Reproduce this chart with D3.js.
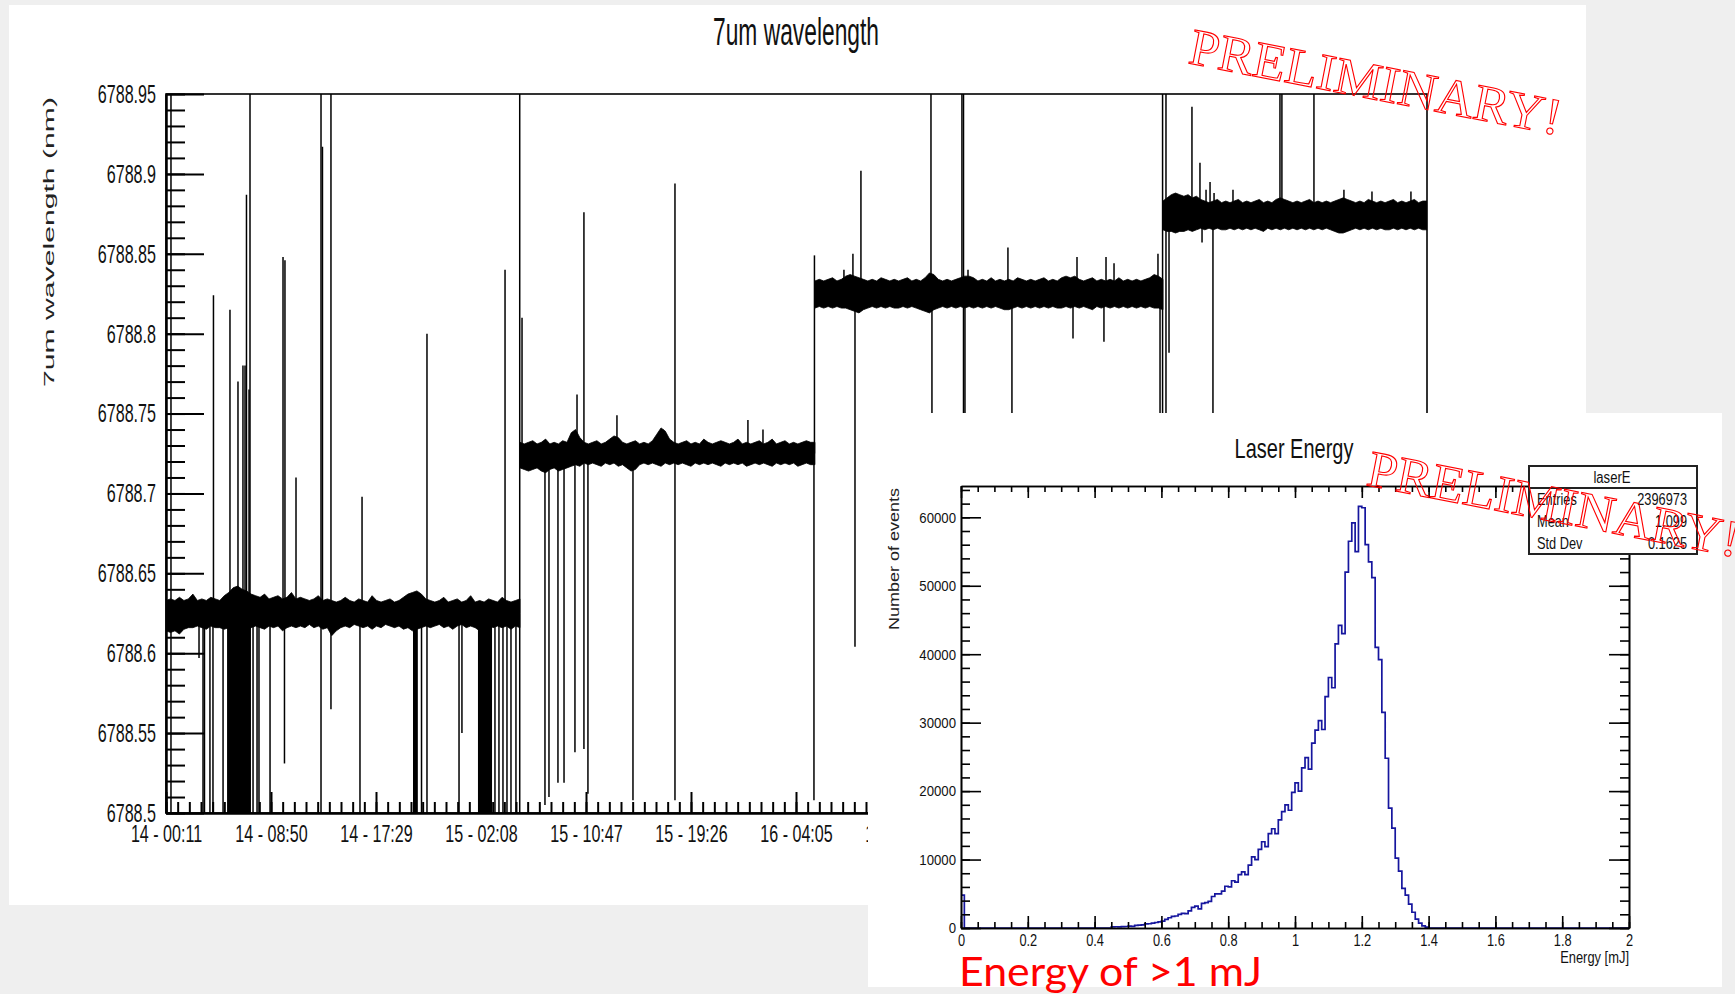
<!DOCTYPE html>
<html><head><meta charset="utf-8">
<script src="https://cdn.jsdelivr.net/npm/d3@7"></script>
<style>
html,body{margin:0;padding:0;background:#efefef;}
svg{display:block;}
</style></head><body>
<svg id="slide" width="1735" height="994"></svg>
<script>
// ---------- 7um wavelength monitor ----------
const runStart = "14 - 00:11";
const runEnd = "18 - 08:04";
const xTickLabels = ["14 - 00:11","14 - 08:50","14 - 17:29","15 - 02:08","15 - 10:47","15 - 19:26",
  "16 - 04:05","16 - 12:44","16 - 21:23","17 - 06:02","17 - 14:41","17 - 23:20","18 - 07:59"];
const yTickValues = [6788.5,6788.55,6788.6,6788.65,6788.7,6788.75,6788.8,6788.85,6788.9,6788.95];
const yTickLabels = ["6788.5","6788.55","6788.6","6788.65","6788.7","6788.75","6788.8","6788.85","6788.9","6788.95"];

// plateaus of the locked wavelength (hours since run start, nm)
const plateauStartH = [0, 29.16, 53.46, 82.13];
const plateauEndH = [29.16, 53.46, 82.13, 103.88];
const plateauLevel = [6788.625, 6788.725, 6788.825, 6788.874];
// jitter envelope above / below each plateau, in pm, sampled evenly along it
const bandUpperPm = [
  [8,9,8,10,8,9,12,8,9,8,10,9,8,11,13,16,17,15,14,12,11,10,12,9,10,11,9,10,13,9,10,9,8,9,11,8,9,8,7,8,
   10,8,7,9,8,7,11,8,7,8,9,7,8,10,12,13,14,12,9,8,7,8,10,7,8,9,7,8,11,7,8,7,9,8,7,10,8,7,8,9],
  [7,6,7,8,6,7,9,6,7,6,8,7,13,15,10,7,6,7,8,6,7,9,11,10,7,6,7,8,6,7,6,8,12,16,14,9,7,6,7,8,
   6,7,6,9,7,6,7,8,7,6,7,9,6,7,6,7,8,6,7,9,6,7,8,6,7,6,7,8,7,7],
  [8,9,8,9,10,8,9,11,12,11,10,9,8,9,8,10,9,8,9,8,9,10,8,9,8,10,13,12,9,8,9,8,9,10,11,11,10,8,9,8,
   10,8,9,8,9,8,10,9,8,9,8,9,10,8,9,8,10,11,10,11,9,8,9,10,8,9,8,9,8,10,8,9,8,9,8,9,10,12,11,9],
  [9,11,13,14,13,12,13,11,12,10,9,8,9,10,8,9,8,9,10,8,9,8,9,10,8,9,8,10,11,10,9,8,9,8,9,10,8,9,8,9,
   8,9,10,11,10,9,8,9,8,10,9,8,9,8,9,10,8,9,8,9,10,8,9,9]
];
const bandLowerPm = [
  [11,12,11,13,10,9,9,8,9,10,8,9,9,10,9,10,11,9,10,9,8,9,10,8,9,8,11,9,8,9,8,9,7,9,8,10,9,14,11,9,
   8,9,7,8,9,8,10,8,9,7,8,9,8,10,9,11,10,9,8,9,8,7,9,8,10,8,7,9,8,9,11,8,7,9,8,9,8,10,8,9],
  [9,10,11,10,9,11,12,10,9,11,10,9,8,7,8,6,7,6,7,8,6,7,6,8,7,9,11,10,7,6,7,6,7,8,6,7,6,7,6,7,
   8,6,7,6,7,6,7,8,6,7,6,7,6,8,7,6,7,6,7,8,6,7,6,7,6,8,7,6,7,7],
  [9,8,9,8,9,8,9,9,10,11,12,10,9,8,9,8,9,8,9,9,8,9,8,9,10,11,12,10,9,8,9,8,9,8,9,8,9,8,9,8,
   9,8,9,10,10,9,8,9,8,9,8,9,8,9,8,9,9,8,9,8,9,8,9,10,8,9,8,9,8,9,8,9,8,9,8,9,8,9,9,10],
  [9,10,10,11,10,10,9,10,9,8,9,8,9,8,9,9,8,9,8,9,8,9,8,9,10,8,9,8,9,8,9,8,9,8,9,8,9,8,9,8,
   9,10,11,11,10,9,8,9,8,9,8,9,8,9,9,8,9,8,9,8,9,8,9,9]
];
// isolated excursions: [hours since start, extreme wavelength nm]
const spikes = [
  [0.41,6789.00],[0.41,6788.45],[2.72,6788.597],[3.05,6788.45],[3.17,6788.45],[3.62,6788.45],[3.87,6788.45],
  [3.91,6788.824],[4.70,6788.45],[5.27,6788.815],[5.93,6788.770],[6.34,6788.780],[6.51,6788.780],[6.63,6788.887],
  [6.84,6788.765],[6.92,6789.00],[7.17,6788.45],[7.50,6788.45],[7.66,6788.45],[8.57,6788.45],
  [9.64,6788.848],[9.80,6788.846],[9.76,6788.531],[10.71,6788.710],
  [12.77,6789.00],[12.77,6788.45],[12.89,6788.917],[13.59,6789.00],[13.59,6788.565],
  [15.98,6788.45],[16.15,6788.698],[20.43,6788.45],[20.68,6788.45],[21.05,6788.45],[21.50,6788.45],[21.50,6788.800],
  [24.14,6788.45],[24.38,6788.550],[27.10,6788.45],[27.43,6788.45],[27.76,6788.45],[27.93,6788.840],
  [28.09,6788.45],[28.42,6788.45],[28.83,6788.45],[29.14,6789.00],[29.14,6788.45],
  [29.33,6788.810],[31.22,6788.505],[31.55,6788.510],[32.29,6788.519],[32.79,6788.519],[33.69,6788.538],
  [33.86,6788.762],[34.43,6788.876],[34.43,6788.540],[34.76,6788.512],[37.15,6788.749],[38.47,6788.508],
  [40.94,6788.740],[41.93,6788.894],[41.93,6788.508],[47.94,6788.746],[49.18,6788.740],[53.38,6788.508],[53.42,6788.849],
  [55.85,6788.840],[56.59,6788.850],[56.76,6788.604],[57.25,6788.902],[63.02,6789.00],[63.10,6788.45],
  [65.57,6789.00],[65.70,6789.00],[65.70,6788.45],[65.82,6788.45],[66.07,6788.840],[69.36,6788.854],[69.69,6788.550],
  [74.72,6788.797],[75.05,6788.848],[77.27,6788.795],[77.44,6788.848],[78.10,6788.844],[81.72,6788.850],
  [81.89,6788.45],[82.10,6789.00],[82.10,6788.45],
  [82.38,6789.00],[82.38,6788.45],[82.63,6788.788],[84.52,6788.942],[85.18,6788.907],[85.35,6788.857],
  [85.68,6788.890],[86.01,6788.895],[86.25,6788.45],[86.34,6788.888],[87.90,6788.890],[91.77,6789.00],
  [91.93,6789.00],[94.57,6789.00],[97.04,6788.890],[99.35,6788.889],[102.56,6788.889]
];
// dense drop-out bursts: [from h, to h, lowest nm]
const bursts = [[5.03,7.00,6788.45],[20.35,20.70,6788.45],[25.70,26.86,6788.45]];

// ---------- laser energy histogram ----------
const energyTickValues = [0,0.2,0.4,0.6,0.8,1,1.2,1.4,1.6,1.8,2];
const energyTickLabels = ["0","0.2","0.4","0.6","0.8","1","1.2","1.4","1.6","1.8","2"];
const countTickValues = [0,10000,20000,30000,40000,50000,60000];
const countTickLabels = ["0","10000","20000","30000","40000","50000","60000"];
const countAxisMax = 64575;
const binWidth = 0.01;
const lowBinStart = [0.00];
const lowBinCount = [4800];
const peakBinStart = 0.45;
const peakBinCounts = [
  150,180,170,200,220,260,240,380,420,450,
  600,620,700,800,900,1000,1250,1500,1700,1750,
  2000,2150,2100,2500,3000,3200,2800,3600,3700,3900,
  4600,5000,5000,5400,6100,6000,6900,6700,7800,8200,
  7800,9200,10400,10000,11500,12600,11900,13800,14500,13800,
  15800,17000,18000,17200,19800,21200,20000,23400,24900,23200,
  27000,28900,30300,29000,33800,36600,35100,41500,44200,43000,
  52000,56500,59200,55000,61600,61400,56000,53500,51200,41000,
  39200,31500,24800,17500,14600,10200,8300,5800,4800,3500,
  2300,1300,700,300,120
];
const statsTitle = "laserE";
const statsNames = ["Entries","Mean","Std Dev"];
const statsValues = ["2396973","1.099","0.1625"];

// ---------- drawing ----------
const SANS = "'Liberation Sans', Arial, Helvetica, sans-serif";
const svg = d3.select("#slide");

// squeeze a text horizontally about its own anchor x
function squeeze(sel, sx) {
  sel.each(function () {
    const t = d3.select(this);
    const x0 = +t.attr("x") || 0;
    t.attr("transform", `translate(${x0},0) scale(${sx},1) translate(${-x0},0)`);
  });
}
function styleAxis(g, fs, sx, sw) {
  g.attr("font-family", SANS).attr("font-size", fs);
  g.selectAll(".tick line").attr("stroke", "#000").attr("stroke-width", sw);
  g.select(".domain").attr("stroke", "#000").attr("stroke-width", sw);
  g.selectAll("text").filter(function () { return !this.textContent; }).remove();
  g.selectAll("text").attr("fill", "#111");
  squeeze(g.selectAll("text"), sx);
}

svg.append("rect").attr("width", 1735).attr("height", 994).attr("fill", "#efefef");
svg.append("rect").attr("x", 9).attr("y", 5).attr("width", 1577).attr("height", 900).attr("fill", "#fff");

// main time-series panel
const parseTime = d3.utcParse("%d - %H:%M");
const t0 = parseTime(runStart);
const atHours = h => new Date(+t0 + h * 3600e3);
const x = d3.scaleUtc().domain([t0, parseTime(runEnd)]).range([166, 1427]);
const y = d3.scaleLinear().domain([6788.5, 6788.95]).range([813, 94]);

const defs = svg.append("defs");
defs.append("clipPath").attr("id", "mainClip").append("rect")
  .attr("x", 166).attr("y", 94).attr("width", 1261).attr("height", 719);
defs.append("clipPath").attr("id", "histClip").append("rect")
  .attr("x", 961).attr("y", 486).attr("width", 668).attr("height", 442);

const main = svg.append("g");
const plot = main.append("g").attr("clip-path", "url(#mainClip)");

function levelAt(h) {
  for (let k = 0; k < plateauLevel.length; k++)
    if (h >= plateauStartH[k] && h < plateauEndH[k]) return plateauLevel[k];
  return plateauLevel[plateauLevel.length - 1];
}

plot.selectAll("rect.burst").data(bursts).join("rect")
  .attr("class", "burst")
  .attr("x", d => x(atHours(d[0])))
  .attr("width", d => x(atHours(d[1])) - x(atHours(d[0])))
  .attr("y", d => y(levelAt(d[0])))
  .attr("height", d => y(d[2]) - y(levelAt(d[0])))
  .attr("fill", "#000");

const band = d3.area().x(d => x(atHours(d.h))).y0(d => y(d.lvl - d.lo / 1000)).y1(d => y(d.lvl + d.up / 1000));
plateauLevel.forEach((lvl, k) => {
  const up = bandUpperPm[k], lo = bandLowerPm[k], n = up.length;
  const h0 = plateauStartH[k], h1 = plateauEndH[k];
  const pts = up.map((u, i) => ({ h: h0 + (h1 - h0) * i / (n - 1), up: u, lo: lo[i], lvl }));
  plot.append("path").datum(pts).attr("d", band)
    .attr("fill", "#000").attr("stroke", "#000").attr("stroke-width", 0.8);
});

plot.selectAll("line.spike").data(spikes).join("line")
  .attr("class", "spike")
  .attr("x1", d => x(atHours(d[0]))).attr("x2", d => x(atHours(d[0])))
  .attr("y1", d => y(levelAt(d[0]))).attr("y2", d => y(d[1]))
  .attr("stroke", "#000").attr("stroke-width", 1.5);

// frame
main.append("rect").attr("x", 166).attr("y", 94).attr("width", 1261).attr("height", 719)
  .attr("fill", "none").attr("stroke", "#000").attr("stroke-width", 1.6);

// y axis (minor + major, ticks pointing inward)
const yMinor = d3.range(0, 46).map(i => 6788.5 + i * 0.01);
const gyMinor = main.append("g").attr("transform", "translate(166,0)")
  .call(d3.axisLeft(y).tickValues(yMinor).tickSize(-19).tickFormat("").tickSizeOuter(0));
styleAxis(gyMinor, 10, 1, 2);
const gy = main.append("g").attr("transform", "translate(166,0)")
  .call(d3.axisLeft(y).tickValues(yTickValues).tickFormat((d, i) => yTickLabels[i])
    .tickSize(-38).tickPadding(10).tickSizeOuter(0));
styleAxis(gy, 26, 0.62, 2);

// x axis (time)
const xMajor = xTickLabels.map(parseTime);
const xMinor = d3.range(0, 109).map(i => new Date(+t0 + i * (519 / 9) * 60e3));
const gxMinor = main.append("g").attr("transform", "translate(0,813)")
  .call(d3.axisBottom(x).tickValues(xMinor).tickSize(-11).tickFormat("").tickSizeOuter(0));
styleAxis(gxMinor, 10, 1, 2);
const gx = main.append("g").attr("transform", "translate(0,813)")
  .call(d3.axisBottom(x).tickValues(xMajor).tickFormat((d, i) => xTickLabels[i])
    .tickSize(-21).tickPadding(12).tickSizeOuter(0));
styleAxis(gx, 24, 0.67, 2);

main.append("text").text("7um wavelength")
  .attr("transform", "translate(796,45) scale(0.6,1)")
  .attr("text-anchor", "middle").attr("font-family", SANS).attr("font-size", 38).attr("fill", "#111");
main.append("text").text("7um wavelength (nm)")
  .attr("transform", "translate(54,242) rotate(-90) scale(1,0.58)")
  .attr("text-anchor", "middle").attr("font-family", SANS).attr("font-size", 26)
  .attr("textLength", 290).attr("lengthAdjust", "spacingAndGlyphs").attr("fill", "#222");

// ---------- inset: laser energy ----------
const ins = svg.append("g");
ins.append("rect").attr("x", 868).attr("y", 413).attr("width", 854).attr("height", 574).attr("fill", "#fff");

const ex = d3.scaleLinear().domain([0, 2]).range([961, 1629]);
const ey = d3.scaleLinear().domain([0, countAxisMax]).range([928, 486]);

const nBins = Math.round(2 / binWidth);
const counts = new Array(nBins).fill(0);
lowBinStart.forEach((e, i) => { counts[Math.round(e / binWidth)] = lowBinCount[i]; });
const firstPeak = Math.round(peakBinStart / binWidth);
peakBinCounts.forEach((c, i) => { counts[firstPeak + i] = c; });
const histPts = [[0, 0]].concat(counts.map((c, i) => [i * binWidth, c]))
  .concat([[2, counts[nBins - 1]], [2, 0]]);
ins.append("path").attr("clip-path", "url(#histClip)")
  .attr("d", d3.line().x(d => ex(d[0])).y(d => ey(d[1])).curve(d3.curveStepAfter)(histPts))
  .attr("fill", "none").attr("stroke", "#16169e").attr("stroke-width", 1.7);

const eMinor = d3.range(0, 41).map(i => i * 0.05);
const cMinor = d3.range(0, 33).map(i => i * 2000);
function insetAxis(axis, tx, ty, fs, sx) {
  const g = ins.append("g").attr("transform", `translate(${tx},${ty})`).call(axis);
  styleAxis(g, fs, sx, 1.6);
  return g;
}
insetAxis(d3.axisBottom(ex).tickValues(eMinor).tickSize(-6).tickFormat("").tickSizeOuter(0), 0, 928, 10, 1);
insetAxis(d3.axisTop(ex).tickValues(eMinor).tickSize(-6).tickFormat("").tickSizeOuter(0), 0, 486, 10, 1);
insetAxis(d3.axisLeft(ey).tickValues(cMinor).tickSize(-9).tickFormat("").tickSizeOuter(0), 961, 0, 10, 1);
insetAxis(d3.axisRight(ey).tickValues(cMinor).tickSize(-9).tickFormat("").tickSizeOuter(0), 1629, 0, 10, 1);
insetAxis(d3.axisBottom(ex).tickValues(energyTickValues).tickFormat((d, i) => energyTickLabels[i])
  .tickSize(-12).tickPadding(7).tickSizeOuter(0), 0, 928, 16, 0.8);
insetAxis(d3.axisTop(ex).tickValues(energyTickValues).tickFormat("").tickSize(-12).tickSizeOuter(0), 0, 486, 10, 1);
insetAxis(d3.axisLeft(ey).tickValues(countTickValues).tickFormat((d, i) => countTickLabels[i])
  .tickSize(-20).tickPadding(5).tickSizeOuter(0), 961, 0, 15, 0.88);
insetAxis(d3.axisRight(ey).tickValues(countTickValues).tickFormat("").tickSize(-20).tickSizeOuter(0), 1629, 0, 10, 1);

ins.append("text").text("Laser Energy")
  .attr("transform", "translate(1294,458) scale(0.74,1)")
  .attr("text-anchor", "middle").attr("font-family", SANS).attr("font-size", 27).attr("fill", "#111");
ins.append("text").text("Energy [mJ]")
  .attr("transform", "translate(1629,963) scale(0.76,1)")
  .attr("text-anchor", "end").attr("font-family", SANS).attr("font-size", 17).attr("fill", "#111");
ins.append("text").text("Number of events")
  .attr("transform", "translate(899,559) rotate(-90) scale(1,0.9)")
  .attr("text-anchor", "middle").attr("font-family", SANS).attr("font-size", 17)
  .attr("textLength", 142).attr("lengthAdjust", "spacingAndGlyphs").attr("fill", "#222");

// statistics box
const stats = ins.append("g");
stats.append("rect").attr("x", 1529).attr("y", 466).attr("width", 168).attr("height", 88)
  .attr("fill", "#fff").attr("stroke", "#222").attr("stroke-width", 2);
stats.append("line").attr("x1", 1529).attr("x2", 1697).attr("y1", 488).attr("y2", 488)
  .attr("stroke", "#222").attr("stroke-width", 2);
stats.append("text").text(statsTitle)
  .attr("transform", "translate(1612,483) scale(0.82,1)").attr("text-anchor", "middle")
  .attr("font-family", SANS).attr("font-size", 16).attr("fill", "#111");
statsNames.forEach((nm, i) => {
  const by = 505 + i * 22;
  stats.append("text").text(nm).attr("transform", `translate(1537,${by}) scale(0.8,1)`)
    .attr("font-family", SANS).attr("font-size", 16).attr("fill", "#111");
  stats.append("text").text(statsValues[i]).attr("transform", `translate(1687,${by}) scale(0.8,1)`)
    .attr("text-anchor", "end").attr("font-family", SANS).attr("font-size", 16).attr("fill", "#111");
});

// ---------- slide annotations ----------
const stamp = (tx, ty) => svg.append("text").text("PRELIMINARY!")
  .attr("transform", `translate(${tx},${ty}) rotate(11)`)
  .attr("font-family", "'Liberation Serif', 'Times New Roman', serif").attr("font-size", 52)
  .attr("textLength", 378).attr("lengthAdjust", "spacingAndGlyphs")
  .attr("fill", "none").attr("stroke", "#ff0000").attr("stroke-width", 1.1);
stamp(1187, 63);
stamp(1365, 485);

svg.append("text").text("Energy of >1 mJ")
  .attr("x", 959).attr("y", 986)
  .attr("font-family", "Lato, 'Open Sans', sans-serif").attr("font-size", 41)
  .attr("textLength", 303).attr("lengthAdjust", "spacingAndGlyphs").attr("fill", "#ff0000");
</script>
</body></html>
